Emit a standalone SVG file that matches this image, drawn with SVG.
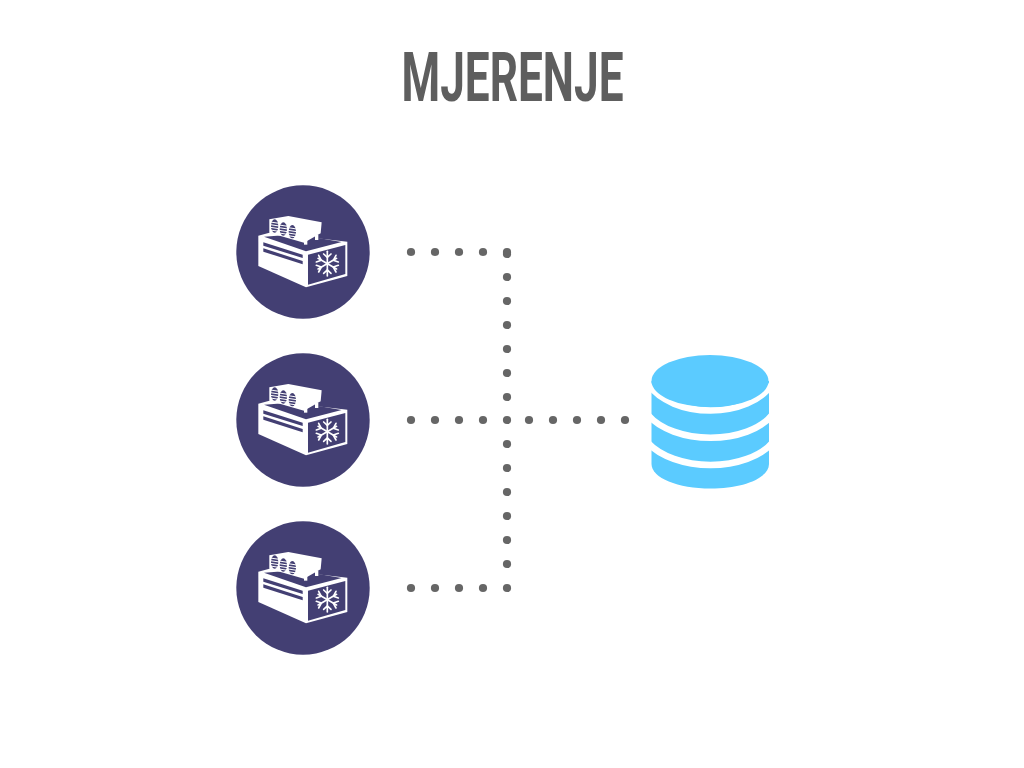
<svg xmlns="http://www.w3.org/2000/svg" width="1024" height="768" viewBox="0 0 1024 768">
<style>
.title{font-family:"Roboto","Liberation Sans",sans-serif;font-weight:700;font-size:68px;fill:#5e5e5e}
.dot{fill:#666666}
.w{fill:#ffffff}
.d{fill:#433f73}
.db{fill:#5bcbff}
.gap{fill:none;stroke:#ffffff;stroke-width:6.500}
</style>
<defs>
<circle id="dot3" class="dot" cx="0" cy="0" r="4.100"/>
<g id="vent">
<ellipse class="d" cx="0" cy="0" rx="11" ry="20"/>
<g stroke="#ffffff" stroke-width="3">
<path d="M-13,-12 L13,-8"/><path d="M-13,-4 L13,0"/><path d="M-13,4 L13,8"/><path d="M-13,12 L13,16"/>
</g>
</g>
<g id="unit">
<circle class="d" cx="303" cy="252" r="66.700"/>
<g transform="translate(230 180) scale(.3333)">
<polygon class="w" points="85,167 118,158 352,185 352,288 228,322 85,258"/>
<polygon class="d" points="234,224 346,195 346,282 234,314"/>
<polygon class="d" points="102,170 200,163 335,186 228,214"/>
<polygon class="d" points="100,187 218,224 218,234 100,197"/>
<polygon class="d" points="100,205 218,243 218,253 100,215"/>
<polygon class="w" points="118,118 175,108 275,127 272,160 222,188 118,158"/>
<polygon class="w" points="222,180 232,180 232,194 222,194"/>
<polygon class="w" points="255,165 265,165 265,180 255,180"/>
<use href="#vent" x="134" y="138"/>
<use href="#vent" x="160" y="147"/>
<use href="#vent" x="187" y="155"/>
<g stroke="#ffffff" stroke-width="5" fill="none" stroke-linecap="round" stroke-linejoin="round">
<path d="M292,214 V288"/>
<path d="M260,251 L324,251" transform="rotate(30 292 251)"/>
<path d="M260,251 L324,251" transform="rotate(-30 292 251)"/>
<path d="M281,222 L292,232 L303,222"/>
<path d="M281,280 L292,270 L303,280"/>
<path d="M266,226 L274,241 L259,246"/>
<path d="M318,226 L310,241 L325,246"/>
<path d="M266,276 L274,261 L259,256"/>
<path d="M318,276 L310,261 L325,256"/>
</g>
</g>
</g>
</defs>
<text class="title" x="512.500" y="101" text-anchor="middle" textLength="222" lengthAdjust="spacingAndGlyphs">MJERENJE</text>
<g id="connectors">
<g id="line-top"><use href="#dot3" x="411" y="252"/><use href="#dot3" x="435" y="252"/><use href="#dot3" x="459" y="252"/><use href="#dot3" x="483" y="252"/></g>
<g id="line-mid"><use href="#dot3" x="411" y="420"/><use href="#dot3" x="435" y="420"/><use href="#dot3" x="459" y="420"/><use href="#dot3" x="483" y="420"/><use href="#dot3" x="529" y="420"/><use href="#dot3" x="553" y="420"/><use href="#dot3" x="577" y="420"/><use href="#dot3" x="601" y="420"/><use href="#dot3" x="625" y="420"/></g>
<g id="line-bot"><use href="#dot3" x="411" y="588"/><use href="#dot3" x="435" y="588"/><use href="#dot3" x="459" y="588"/><use href="#dot3" x="483" y="588"/></g>
<g id="line-vertical"><use href="#dot3" x="507" y="252"/><use href="#dot3" x="507" y="254"/><use href="#dot3" x="507" y="277"/><use href="#dot3" x="507" y="301"/><use href="#dot3" x="507" y="325"/><use href="#dot3" x="507" y="349"/><use href="#dot3" x="507" y="373"/><use href="#dot3" x="507" y="397"/><use href="#dot3" x="507" y="420"/><use href="#dot3" x="507" y="444"/><use href="#dot3" x="507" y="468"/><use href="#dot3" x="507" y="492"/><use href="#dot3" x="507" y="516"/><use href="#dot3" x="507" y="540"/><use href="#dot3" x="507" y="564"/><use href="#dot3" x="507" y="588"/></g>
</g>
<g id="node-unit-1"><use href="#unit"/></g>
<g id="node-unit-2"><use href="#unit" y="168"/></g>
<g id="node-unit-3"><use href="#unit" y="336"/></g>
<g id="node-database">
<path class="db" d="M651.500,381 V464 C651.500,478 678,488.500 710.500,488.500 C743,488.500 769,478 769,464 V381 Z"/>
<path class="gap" d="M648,384 C660,401 684,410.500 710.500,410.500 C737,410.500 761,401 772,384"/>
<path class="gap" d="M648,415 C660,429 684,437.700 710.500,437.700 C737,437.700 761,429 772,415"/>
<path class="gap" d="M648,443 C660,456 684,465 710.500,465 C737,465 761,456 772,443"/>
<ellipse class="db" cx="710" cy="381" rx="58.500" ry="26"/>
</g>
</svg>
